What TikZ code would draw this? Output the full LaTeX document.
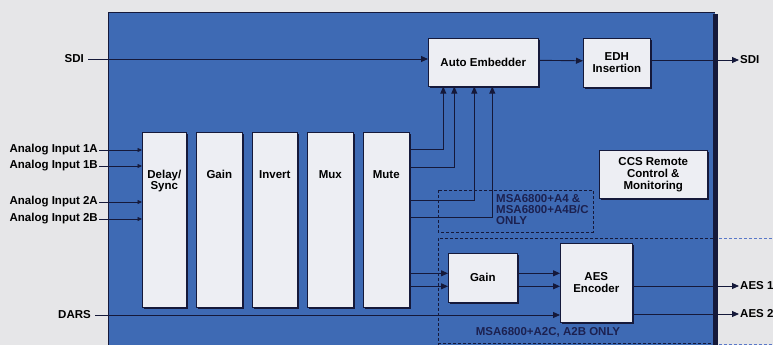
\documentclass[tikz,border=0pt]{standalone}
\usepackage{fontspec}
\setmainfont{Liberation Sans}
\usetikzlibrary{arrows.meta,shadows}
\definecolor{panel}{HTML}{3E6AB4}
\definecolor{navy}{HTML}{15193A}
\definecolor{bgc}{HTML}{E6E6E8}
\definecolor{boxfill}{HTML}{EDEEF3}
\definecolor{dashout}{HTML}{5A78C8}
\definecolor{msatext}{HTML}{1C2150}
\begin{document}
\begin{tikzpicture}[x=1pt,y=-1pt,
  box/.style={draw=navy,line width=0.6pt,fill=boxfill,
    drop shadow={shadow xshift=1.8pt,shadow yshift=-1.8pt,fill=navy,opacity=1},
    anchor=north west,inner sep=0pt,align=center,text=black,
    font=\fontsize{11.5}{12}\selectfont\bfseries},
  collbl/.style={anchor=north,yshift=-38pt,inner sep=0pt,align=center,text=black,
    font=\fontsize{11.5}{11}\selectfont\bfseries},
  lbl/.style={font=\fontsize{11.5}{12}\selectfont\bfseries,text=black,inner sep=1pt},
  msa/.style={font=\fontsize{11.5}{11}\selectfont\bfseries,text=msatext,inner sep=0pt,align=left},
  arr/.style={draw=navy,line width=0.9pt,-{Triangle[length=7pt,width=6pt]}},
  sarr/.style={draw=navy,line width=0.7pt,-{Triangle[length=4.5pt,width=4pt]}},
  dash in/.style={draw=navy,line width=0.8pt,dash pattern=on 3pt off 2pt},
  dash out/.style={draw=dashout,line width=0.8pt,dash pattern=on 3pt off 2pt}
]
\useasboundingbox (0,0) rectangle (773,345);
\fill[bgc] (0,0) rectangle (773,345);

% panel
\fill[panel] (108,12) rectangle (715,345);
\draw[navy,line width=0.8pt] (108,345) -- (108,12) -- (715,12);
\fill[navy] (713,14) rectangle (718,345);

% blocks
\node[box,minimum width=110pt,minimum height=48pt] (ae) at (428,38) {Auto Embedder};
\node[box,minimum width=67pt,minimum height=49pt] (edh) at (583,38) {EDH\\Insertion};
\node[box,minimum width=44pt,minimum height=175pt,label={[collbl]north:Delay/\\Sync}] (delay) at (142,132) {};
\node[box,minimum width=46pt,minimum height=175pt,label={[collbl]north:Gain}] (gaina) at (196,132) {};
\node[box,minimum width=45pt,minimum height=175pt,label={[collbl]north:Invert}] (invert) at (252,132) {};
\node[box,minimum width=46pt,minimum height=175pt,label={[collbl]north:Mux}] (mux) at (307,132) {};
\node[box,minimum width=46pt,minimum height=175pt,label={[collbl]north:Mute}] (mute) at (363,132) {};
\node[box,minimum width=108pt,minimum height=48pt] (ccs) at (599,150) {CCS Remote\\Control \&\\Monitoring};
\node[box,minimum width=69pt,minimum height=49pt] (gainb) at (448,253) {Gain};
\node[box,minimum width=72pt,minimum height=79pt] (aes) at (560,243) {AES\\Encoder};

% dashed option boxes
\draw[dash in] (438,190) rectangle (593,232);
\draw[dash in] (713,238) -- (438,238) -- (438,345);
\draw[dash in] (438,343) -- (713,343);
\draw[dash out] (719,238) -- (773,238);
\draw[dash out] (719,344) -- (773,344);
\node[msa,anchor=north west] (msa1) at (496,194) {MSA6800+A4 \&\\MSA6800+A4B/C\\ONLY};
\node[msa,anchor=base] (msa2) at (548,335) {MSA6800+A2C, A2B ONLY};

% SDI path
\node[lbl,anchor=east] (sdiin) at (85,59) {SDI};
\draw[arr] ([xshift=3pt]sdiin.east) -- (sdiin.east -| ae.west);
\draw[arr] ([yshift=2pt]ae.east) -- ([yshift=2pt]edh.west);
\node[lbl,anchor=west] (sdiout) at (739,60) {SDI};
\draw[arr] (edh.east |- sdiout) -- (sdiout.west);

% analog inputs
\node[lbl,anchor=east] (a1a) at (99,150) {Analog Input 1A};
\node[lbl,anchor=east] (a1b) at (99,166) {Analog Input 1B};
\node[lbl,anchor=east] (a2a) at (99,202) {Analog Input 2A};
\node[lbl,anchor=east] (a2b) at (99,219) {Analog Input 2B};
\draw[sarr] (a1a.east) -- (a1a.east -| delay.west);
\draw[sarr] (a1b.east) -- (a1b.east -| delay.west);
\draw[sarr] (a2a.east) -- (a2a.east -| delay.west);
\draw[sarr] (a2b.east) -- (a2b.east -| delay.west);

% mute to auto embedder
\draw[arr] ([yshift=70.5pt]mute.east) -| ([xshift=-40pt]ae.south);
\draw[arr] ([yshift=52.5pt]mute.east) -| ([xshift=-29pt]ae.south);
\draw[arr] ([yshift=19.5pt]mute.east) -| ([xshift=-9pt]ae.south);
\draw[arr] ([yshift=2.5pt]mute.east) -| ([xshift=9pt]ae.south);

% mute to gain to AES
\coordinate (ga) at ([yshift=4.5pt]gainb.west);
\coordinate (gb) at ([yshift=-8.5pt]gainb.west);
\draw[arr] (mute.east |- ga) -- (ga);
\draw[arr] (mute.east |- gb) -- (gb);
\draw[arr] (gainb.east |- ga) -- (aes.west |- ga);
\draw[arr] (gainb.east |- gb) -- (aes.west |- gb);

% DARS
\node[lbl,anchor=east] (dars) at (92,315) {DARS};
\draw[arr] ([xshift=3pt]dars.east) -- (dars.east -| aes.west);

% AES outputs
\node[lbl,anchor=west] (aes1) at (739,286) {AES 1};
\node[lbl,anchor=west] (aes2) at (739,314) {AES 2};
\draw[arr] (aes.east |- aes1) -- (aes1.west);
\draw[arr] (aes.east |- aes2) -- (aes2.west);
\end{tikzpicture}
\end{document}
